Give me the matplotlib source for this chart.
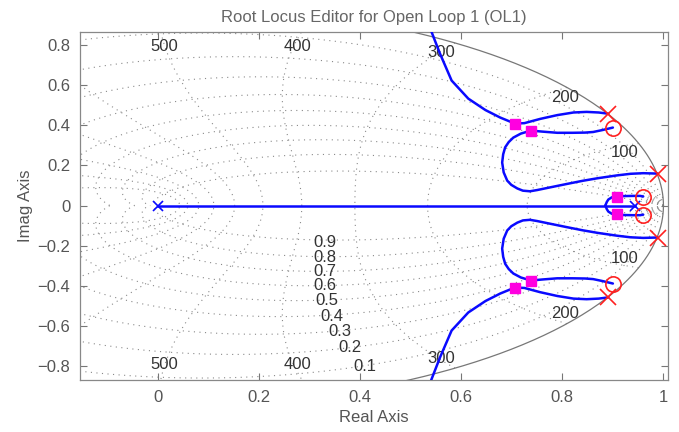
import numpy as np
import matplotlib
matplotlib.use("Agg")
import matplotlib.pyplot as plt

plt.rcParams['font.family'] = ['Liberation Sans', 'DejaVu Sans']

# ---------------- data ----------------
title = "Root Locus Editor for Open Loop 1 (OL1)"
xlabel = "Real Axis"
ylabel = "Imag Axis"
xticks = [0, 0.2, 0.4, 0.6, 0.8, 1]
xticklabels = ["0", "0.2", "0.4", "0.6", "0.8", "1"]
yticks = [-0.8, -0.6, -0.4, -0.2, 0, 0.2, 0.4, 0.6, 0.8]
yticklabels = ["\u22120.8", "\u22120.6", "\u22120.4", "\u22120.2", "0", "0.2", "0.4", "0.6", "0.8"]

# grid definition (damping ratios, natural frequencies in rad/s, sample time)
zetas = [0.1, 0.2, 0.3, 0.4, 0.5, 0.6, 0.7, 0.8, 0.9]
wns = [100, 200, 300, 400, 500, 600, 700, 800, 900, 1000]
Ts = np.pi / 1000
wn_small = 13

# grid label positions
wn_label_text = ["500", "400", "300", "200", "100"]
wn_label_x = [0.012, 0.277, 0.561, 0.806, 0.924]
wn_label_y = [0.792, 0.792, 0.762, 0.537, 0.264]
zeta_label_text = ["0.9", "0.8", "0.7", "0.6", "0.5", "0.4", "0.3", "0.2", "0.1"]
zeta_label_x = [0.331, 0.331, 0.331, 0.331, 0.334, 0.344, 0.360, 0.380, 0.410]
zeta_label_y = [-0.183, -0.258, -0.327, -0.400, -0.473, -0.550, -0.628, -0.706, -0.800]

# open-loop poles (red x), zeros (red o), upper half plane; conjugates mirrored
pole_re = [0.891, 0.989]
pole_im = [0.457, 0.159]
zero_re = [0.900, 0.960]
zero_im = [0.388, 0.045]
# real-axis poles (blue x)
real_pole_re = [0.0, 0.944]
# closed-loop poles (magenta squares), upper half
clp_re = [0.706, 0.738, 0.909]
clp_im = [0.408, 0.373, 0.041]

# locus branches (upper half; lower half is the mirror image)
branchA_re = [0.536, 0.541, 0.558, 0.581, 0.614, 0.648, 0.677, 0.706, 0.725, 0.756, 0.790, 0.822, 0.848, 0.872, 0.891]
branchA_im = [0.900, 0.866, 0.756, 0.622, 0.532, 0.475, 0.438, 0.408, 0.410, 0.431, 0.450, 0.463, 0.466, 0.463, 0.457]
branchB_re = [0.989, 0.960, 0.935, 0.908, 0.870, 0.840, 0.810, 0.775, 0.750, 0.736, 0.722, 0.711, 0.699, 0.691, 0.684, 0.681, 0.683, 0.687, 0.694, 0.703, 0.718, 0.738, 0.760, 0.790, 0.820, 0.845, 0.861, 0.880, 0.900]
branchB_im = [0.159, 0.161, 0.158, 0.150, 0.136, 0.123, 0.108, 0.090, 0.077, 0.071, 0.074, 0.085, 0.103, 0.124, 0.165, 0.214, 0.255, 0.290, 0.316, 0.338, 0.358, 0.373, 0.368, 0.362, 0.362, 0.363, 0.366, 0.376, 0.388]
branchC_re = [0.885, 0.888, 0.891, 0.898, 0.909, 0.920, 0.940, 0.954, 0.960]
branchC_im = [0.0, 0.018, 0.030, 0.041, 0.045, 0.047, 0.048, 0.048, 0.045]
real_branch_re = [0.0, 0.944]

# ---------------- figure ----------------
fig = plt.figure(figsize=(6.79, 4.32), dpi=100)
ax = fig.add_axes([80 / 679, 1 - 380 / 432, 588 / 679, 348.5 / 432])
xlim = (-0.154, 1.009)
ylim = (-0.868, 0.866)

gridc = '#8a8a8a'
dots = (0, (1, 4))

# damping ratio lines
theta = np.linspace(0, np.pi, 400)
for z in zetas:
    r = np.exp(-z * theta / np.sqrt(1 - z ** 2))
    for s in (1, -1):
        ax.plot(r * np.cos(theta), s * r * np.sin(theta), color=gridc, lw=0.8, ls=dots, zorder=1)

# natural frequency lines
zz = np.linspace(0, 1, 300)
for w in wns + [wn_small]:
    a = w * Ts
    r = np.exp(-zz * a)
    ang = a * np.sqrt(1 - zz ** 2)
    for s in (1, -1):
        ax.plot(r * np.cos(ang), s * r * np.sin(ang), color=gridc, lw=0.8, ls=dots, zorder=1)

# unit circle
t = np.linspace(0, 2 * np.pi, 600)
ax.plot(np.cos(t), np.sin(t), color='#777777', lw=0.9, zorder=2)

# grid labels
for txt, x, y in zip(wn_label_text, wn_label_x, wn_label_y):
    for s in (1, -1):
        ax.text(x, s * y, txt, fontsize=12, color='#333333', ha='center', va='center', zorder=3)
for txt, x, y in zip(zeta_label_text, zeta_label_x, zeta_label_y):
    ax.text(x, y, txt, fontsize=12, color='#333333', ha='center', va='center', zorder=3)

# locus
blue = '#0a0aff'
lw = 1.8
for s in (1, -1):
    ax.plot(branchA_re, s * np.array(branchA_im), color=blue, lw=lw, zorder=4, solid_capstyle='round')
    ax.plot(branchB_re, s * np.array(branchB_im), color=blue, lw=lw, zorder=4, solid_capstyle='round')
    ax.plot(branchC_re, s * np.array(branchC_im), color=blue, lw=lw, zorder=4, solid_capstyle='round')
ax.plot(real_branch_re, [0, 0], color=blue, lw=lw, zorder=4)

# markers
ax.plot(real_pole_re, [0, 0], ls='none', marker='x', ms=7, mew=1.2, color=blue, zorder=5)
for s in (1, -1):
    ax.plot(pole_re, s * np.array(pole_im), ls='none', marker='x', ms=11, mew=1.2, color='#ff2020', zorder=6)
    ax.plot(zero_re, s * np.array(zero_im), ls='none', marker='o', ms=11, mew=1.2, mfc='none', mec='#ff2020', zorder=6)
    ax.plot(clp_re, s * np.array(clp_im), ls='none', marker='s', ms=7, mfc='#ff00e0', mec='#ff00e0', zorder=7)

ax.set_xlim(*xlim)
ax.set_ylim(*ylim)
ax.set_xticks(xticks)
ax.set_xticklabels(xticklabels)
ax.set_yticks(yticks)
ax.set_yticklabels(yticklabels)

tc = '#555555'
ax.tick_params(direction='in', top=True, right=True, length=5, width=0.8, color='#777777',
               labelsize=12, labelcolor=tc, pad=7)
for sp in ax.spines.values():
    sp.set_color('#888888')
    sp.set_linewidth(0.9)

ax.set_title(title, fontsize=12, color='#666666', pad=7)
ax.set_xlabel(xlabel, fontsize=12, color=tc, labelpad=4)
ax.set_ylabel(ylabel, fontsize=12, color=tc, labelpad=3)

fig.savefig('out.png', dpi=100)
